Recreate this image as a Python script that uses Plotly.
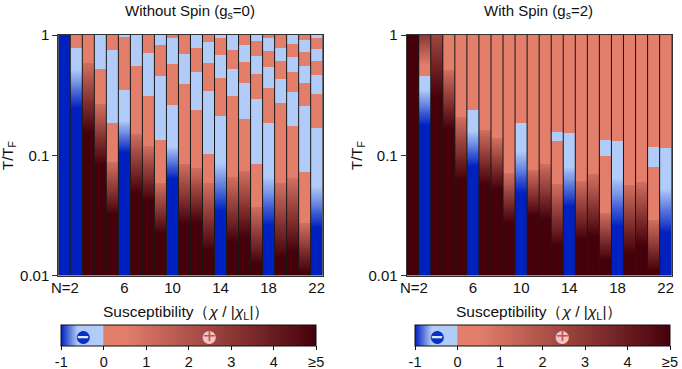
import plotly.graph_objects as go

N = list(range(1, 23))
x_ticks = [6, 10, 14, 18, 22]
y_ticks = [0, -1, -2]
y_labels = ["1", "0.1", "0.01"]
bar_ticks = [-1, 0, 1, 2, 3, 4, 5]
bar_labels = ["-1", "0", "1", "2", "3", "4", "≥5"]

# chi levels going down through a column
SALMON = 0.5
LIGHT = -0.5
DARK = [0.5, 1.06, 1.62, 2.19, 2.75, 3.31, 3.88, 4.44, 5]
BLUE = [-0.6, -0.67, -0.73, -0.8, -0.87, -0.93, -1]

# log10(T/TF) at each stop, top to bottom
left_tops = [
    [0],
    [0, -.108, -.275, -.33, -.39, -.44, -.5, -.55, -.61],
    [0, -.15, -.23, -.32, -.40, -.48, -.56, -.65, -.73, -.81],
    [0, -.286, -.5, -.57, -.65, -.72, -.79, -.86, -.94, -1.01, -1.08],
    [0, -.128, -.73, -1, -1.06, -1.12, -1.18, -1.25, -1.31, -1.37, -1.43, -1.49],
    [0, -.02, -.46, -.71, -.75, -.8, -.84, -.89, -.93, -.975],
    [0, -.258, -.75, -.82, -.89, -.96, -1.03, -1.10, -1.17, -1.24, -1.31],
    [0, -.147, -.51, -.85, -.92, -.98, -1.05, -1.11, -1.18, -1.24, -1.31, -1.375],
    [0, -.08, -.344, -.872, -1.17, -1.23, -1.29, -1.35, -1.41, -1.47, -1.53, -1.59, -1.65],
    [0, -.022, -.239, -.586, -.92, -.965, -1.01, -1.055, -1.1, -1.145, -1.19],
    [0, -.16, -.408, -1, -1.07, -1.14, -1.21, -1.29, -1.36, -1.43, -1.5, -1.57],
    [0, -.108, -.308, -.625, -1.05, -1.11, -1.18, -1.24, -1.3, -1.37, -1.43, -1.49, -1.56],
    [0, -.058, -.23, -.467, -.989, -1.15, -1.23, -1.31, -1.39, -1.47, -1.55, -1.63, -1.71, -1.79],
    [0, -.022, -.17, -.358, -.67, -1.06, -1.13, -1.19, -1.26, -1.33, -1.39, -1.46],
    [0, -.122, -.283, -.506, -1.1, -1.18, -1.26, -1.33, -1.41, -1.49, -1.57, -1.64, -1.72],
    [0, -.086, -.222, -.4, -.697, -1.05, -1.13, -1.21, -1.29, -1.37, -1.44, -1.52, -1.6, -1.68],
    [0, -.05, -.175, -.325, -.536, -1.072, -1.36, -1.43, -1.5, -1.56, -1.63, -1.7, -1.77, -1.83, -1.9],
    [0, -.022, -.133, -.267, -.44, -.73, -1.17, -1.24, -1.31, -1.37, -1.44, -1.51, -1.58],
    [0, -.105, -.217, -.364, -.567, -1.14, -1.23, -1.32, -1.41, -1.5, -1.58, -1.67, -1.76, -1.85],
    [0, -.072, -.183, -.308, -.47, -.753, -1.1, -1.19, -1.28, -1.36, -1.45, -1.54, -1.63, -1.71, -1.8],
    [0, -.044, -.142, -.258, -.4, -.592, -1.14, -1.5, -1.56, -1.62, -1.68, -1.74, -1.79, -1.85, -1.91, -1.97],
    [0, -.022, -.114, -.217, -.336, -.494, -.772, -1.25, -1.31, -1.37, -1.43, -1.48, -1.54, -1.6],
]
left_chi = [
    [-1],
    [SALMON, LIGHT] + BLUE,
    [SALMON] + DARK,
    [LIGHT, SALMON] + DARK,
    [SALMON, LIGHT, SALMON] + DARK,
    [LIGHT, SALMON, LIGHT] + BLUE,
    [LIGHT, SALMON] + DARK,
    [SALMON, LIGHT, SALMON] + DARK,
    [LIGHT, SALMON, LIGHT, SALMON] + DARK,
    [SALMON, LIGHT, SALMON, LIGHT] + BLUE,
    [SALMON, LIGHT, SALMON] + DARK,
    [LIGHT, SALMON, LIGHT, SALMON] + DARK,
    [SALMON, LIGHT, SALMON, LIGHT, SALMON] + DARK,
    [LIGHT, SALMON, LIGHT, SALMON, LIGHT] + BLUE,
    [LIGHT, SALMON, LIGHT, SALMON] + DARK,
    [SALMON, LIGHT, SALMON, LIGHT, SALMON] + DARK,
    [LIGHT, SALMON, LIGHT, SALMON, LIGHT, SALMON] + DARK,
    [SALMON, LIGHT, SALMON, LIGHT, SALMON, LIGHT] + BLUE,
    [SALMON, LIGHT, SALMON, LIGHT, SALMON] + DARK,
    [LIGHT, SALMON, LIGHT, SALMON, LIGHT, SALMON] + DARK,
    [SALMON, LIGHT, SALMON, LIGHT, SALMON, LIGHT, SALMON] + DARK,
    [LIGHT, SALMON, LIGHT, SALMON, LIGHT, SALMON, LIGHT] + BLUE,
]

right_tops = [
    [0],
    [0, -.05, -.1, -.15, -.2, -.25, -.339, -.447, -.5, -.55, -.6, -.65, -.7, -.75],
    [0, -.1, -.21, -.31, -.41, -.517],
    [0, -.22, -.29, -.36, -.43, -.5, -.57, -.64, -.71, -.78],
    [0, -.61, -.68, -.76, -.83, -.9, -.98, -1.05, -1.13, -1.2],
    [0, -.622, -.794, -.84, -.89, -.94, -.99, -1.04, -1.086],
    [0, -.725, -.79, -.85, -.92, -.98, -1.05, -1.11, -1.18, -1.24],
    [0, -.8, -.86, -.92, -.98, -1.04, -1.1, -1.16, -1.22, -1.28],
    [0, -1.09, -1.15, -1.21, -1.27, -1.32, -1.38, -1.44, -1.5, -1.56],
    [0, -.733, -.96, -1.02, -1.08, -1.14, -1.19, -1.25, -1.31],
    [0, -1.06, -1.12, -1.17, -1.23, -1.28, -1.34, -1.39, -1.45, -1.5],
    [0, -1, -1.07, -1.13, -1.2, -1.27, -1.33, -1.4, -1.46, -1.53],
    [0, -.803, -.88, -1.17, -1.24, -1.32, -1.39, -1.46, -1.53, -1.61, -1.68, -1.75],
    [0, -.817, -1.09, -1.14, -1.2, -1.25, -1.31, -1.36, -1.42],
    [0, -1.14, -1.21, -1.28, -1.35, -1.42, -1.49, -1.56, -1.63, -1.7],
    [0, -1.09, -1.16, -1.24, -1.31, -1.38, -1.45, -1.53, -1.6, -1.67],
    [0, -.87, -1.008, -1.42, -1.48, -1.53, -1.59, -1.64, -1.7, -1.75, -1.81, -1.86],
    [0, -.88, -1.18, -1.25, -1.32, -1.38, -1.45, -1.52, -1.59],
    [0, -1.17, -1.25, -1.33, -1.41, -1.49, -1.57, -1.65, -1.73, -1.81],
    [0, -1.14, -1.22, -1.29, -1.37, -1.45, -1.52, -1.6, -1.67, -1.75],
    [0, -.928, -1.094, -1.48, -1.54, -1.6, -1.66, -1.72, -1.78, -1.84, -1.9, -1.96],
    [0, -.936, -1.27, -1.33, -1.39, -1.45, -1.52, -1.58, -1.64],
]
right_chi = [
    [5],
    [3, 2.5, 2, 1.5, 1, SALMON, LIGHT] + BLUE,
    [2.5, 3, 3.5, 4, 4.5, 5],
    [SALMON] + DARK,
    [SALMON] + DARK,
    [SALMON, LIGHT] + BLUE,
    [SALMON] + DARK,
    [SALMON] + DARK,
    [SALMON] + DARK,
    [SALMON, LIGHT] + BLUE,
    [SALMON] + DARK,
    [SALMON] + DARK,
    [SALMON, LIGHT, SALMON] + DARK,
    [SALMON, LIGHT] + BLUE,
    [SALMON] + DARK,
    [SALMON] + DARK,
    [SALMON, LIGHT, SALMON] + DARK,
    [SALMON, LIGHT] + BLUE,
    [SALMON] + DARK,
    [SALMON] + DARK,
    [SALMON, LIGHT, SALMON] + DARK,
    [SALMON, LIGHT] + BLUE,
]

FONT = "Liberation Sans"
W, H = 682, 369
# z from -1 to 5, jump from light blue to salmon at 0
colorscale = [
    [0, "#0020bf"],
    [0.066, "#b1ccf9"],
    [0.1666, "#b1ccf9"],
    [0.1667, "#e37e6b"],
    [0.25, "#e37e6b"],
    [1, "#46000a"],
]
GUARD = 0.0005  # keeps zsmooth from blending across a flat band's edge


def column_stops(tops, chi):
    # flat bands get a pair of close stops at each end, the ramps just run stop to stop
    ys, zs = [], []
    ends = tops[1:] + [-2]
    for i, (top, end, z) in enumerate(zip(tops, ends, chi)):
        if z in (SALMON, LIGHT) or i == len(chi) - 1:
            ys += [top, top - GUARD, end + 2 * GUARD, end + GUARD]
            zs += [z] * 4
        else:
            ys.append(top)
            zs.append(z)
    return ys, zs


def add_panel(fig, tops, chi, xaxis, yaxis, coloraxis):
    for n, t, c in zip(N, tops, chi):
        ys, zs = column_stops(t, c)
        fig.add_trace(go.Heatmap(
            x=[n - 0.23, n + 0.23],
            y=ys[::-1],
            z=[[v, v] for v in zs[::-1]],
            zsmooth="best",
            coloraxis=coloraxis,
            xaxis=xaxis,
            yaxis=yaxis,
            hoverinfo="skip",
        ))


fig = go.Figure()
add_panel(fig, left_tops, left_chi, "x", "y", "coloraxis")
add_panel(fig, right_tops, right_chi, "x2", "y2", "coloraxis2")


def colorbar(left):
    return dict(
        orientation="h", lenmode="pixels", len=254.5, thicknessmode="pixels", thickness=21,
        x=left / W, xanchor="left", y=1 - 325 / H, yanchor="top", xpad=0, ypad=0,
        tickmode="array", tickvals=bar_ticks, ticktext=bar_labels, ticks="outside",
        ticklen=4, tickwidth=1, tickcolor="#111", outlinewidth=1, outlinecolor="#111",
        tickfont=dict(family=FONT, size=14.5, color="#111"), title=dict(text=""),
    )


axis_style = dict(showline=True, linecolor="#333", linewidth=1, mirror=True, showgrid=False, zeroline=False)
x_style = dict(axis_style, range=[0.5, 22.5], tickmode="array", tickvals=x_ticks, ticks="",
               ticklabelstandoff=-2, tickfont=dict(family=FONT, size=15, color="#111"))
y_style = dict(axis_style, range=[-2, 0], tickmode="array", tickvals=y_ticks, ticktext=y_labels,
               ticks="outside", ticklen=5, tickcolor="#333",
               tickfont=dict(family=FONT, size=15, color="#111"))

notes = []


def note(x, y, text, size=15, color="#111", anchor="center", angle=0):
    notes.append(dict(x=x / W, y=1 - y / H, xref="paper", yref="paper", text=text, showarrow=False,
                      xanchor=anchor, yanchor="middle", textangle=angle,
                      font=dict(family=FONT, size=size, color=color)))


note(190, 12, "Without Spin (g<sub>s</sub>=0)")
note(538.5, 12, "With Spin (g<sub>s</sub>=2)")
note(8, 156, "T/T<sub>F</sub>", angle=-90)
note(357, 156, "T/T<sub>F</sub>", angle=-90)
note(81, 287, "N=2", anchor="right")
note(430, 287, "N=2", anchor="right")
note(185.5, 312, "Susceptibility（<i>χ</i> / |<i>χ</i><sub>L</sub>|）", size=15.5)
note(539, 312, "Susceptibility（<i>χ</i> / |<i>χ</i><sub>L</sub>|）", size=15.5)
for cx_minus, cx_plus in [(83, 209), (437, 562)]:
    note(cx_minus, 335, "●", size=30, color="#0a2fc4")
    note(cx_minus, 337, "<b>−</b>", size=20, color="#dfe8ff")
    note(cx_plus, 335, "●", size=30, color="#f2c4c4")
    note(cx_plus, 335, "+", size=22, color="#c2505a")

fig.update_layout(
    width=W, height=H, autosize=False,
    margin=dict(l=0, r=0, t=0, b=0, autoexpand=False),
    paper_bgcolor="white", plot_bgcolor="#1a1a1a",
    showlegend=False,
    xaxis=dict(x_style, domain=[58.3 / W, 322.7 / W], anchor="y"),
    yaxis=dict(y_style, domain=[1 - 275.5 / H, 1 - 35 / H], anchor="x"),
    xaxis2=dict(x_style, domain=[406.7 / W, 671.7 / W], anchor="y2"),
    yaxis2=dict(y_style, domain=[1 - 275.5 / H, 1 - 35 / H], anchor="x2"),
    coloraxis=dict(colorscale=colorscale, cmin=-1, cmax=5, colorbar=colorbar(61.3)),
    coloraxis2=dict(colorscale=colorscale, cmin=-1, cmax=5, colorbar=colorbar(415)),
    annotations=notes,
)

fig.write_html("out.html", config={"displayModeBar": False}, post_script="document.body.style.margin = '0';")
